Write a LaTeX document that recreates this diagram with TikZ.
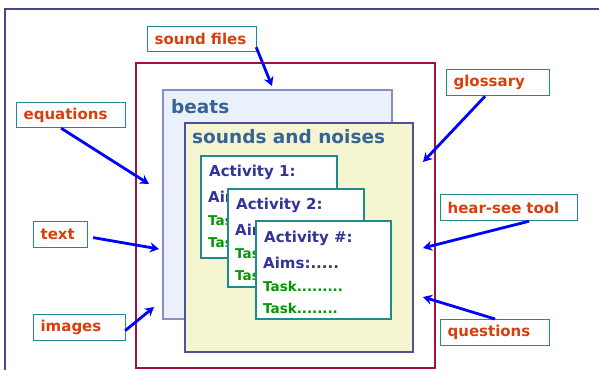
\documentclass[tikz,border=0pt]{standalone}
\usepackage{fontspec}
\setmainfont{DejaVu Sans}
\usetikzlibrary{arrows.meta}
\definecolor{slideline}{RGB}{70,70,150}
\definecolor{labeltext}{RGB}{215,64,12}
\definecolor{labelborder}{RGB}{30,140,140}
\definecolor{framered}{RGB}{160,20,60}
\definecolor{beatsfill}{RGB}{235,241,250}
\definecolor{beatsborder}{RGB}{140,140,200}
\definecolor{soundfill}{RGB}{245,245,210}
\definecolor{soundborder}{RGB}{80,80,160}
\definecolor{titleblue}{RGB}{55,100,150}
\definecolor{actblue}{RGB}{51,51,153}
\definecolor{taskgreen}{RGB}{0,150,0}
\definecolor{arrowblue}{RGB}{0,0,255}
\tikzset{
  lbl/.style={draw=labelborder, line width=1.2pt, fill=white, rectangle,
    anchor=north west, inner xsep=7pt, inner ysep=0pt, align=left,
    font=\fontsize{15}{15}\selectfont\bfseries, text=labeltext},
  actbox/.style={draw=labelborder, line width=1.1pt, fill=white},
  acthead/.style={anchor=base west, inner sep=0pt, text=actblue,
    font=\fontsize{15}{15}\selectfont\bfseries},
  acttask/.style={anchor=base west, inner sep=0pt, text=taskgreen,
    font=\fontsize{13.5}{13.5}\selectfont\bfseries},
  title/.style={anchor=base west, inner sep=0pt, text=titleblue,
    font=\fontsize{18.5}{18.5}\selectfont\bfseries},
  pointer/.style={draw=arrowblue, line width=2.8pt,
    -{Stealth[length=9pt,width=10pt]}},
}
\begin{document}
\begin{tikzpicture}[x=1pt,y=-1pt]
\useasboundingbox (0,0) rectangle (599,370);
\fill[white] (0,0) rectangle (599,370);
% slide border lines
\draw[slideline, line width=1.3pt] (5,370) -- (5,9) -- (599,9);

% main frame and nested panels
\draw[framered, line width=1.3pt, fill=white] (136,63) rectangle (435,368);
\draw[beatsborder, line width=1.1pt, fill=beatsfill] (163,90) rectangle (392,319);
\node[title] (beats) at (171,113) {beats};
\draw[soundborder, line width=1.1pt, fill=soundfill] (185,123) rectangle (413,352);
\node[title] (sounds) at (192,143) {sounds and noises};

% activity cards, each one partly hidden by the next
\draw[actbox] (201,156) rectangle (337,258);
\node[acthead] (a1h) at (209,176) {Activity 1:};
\begin{scope}
  \clip (201,185) rectangle (228,258);
  \node[acthead] (a1a) at (208,202) {Aims:.....};
  \node[acttask] (a1t1) at (208,225) {Task.........};
  \node[acttask] (a1t2) at (208,247) {Task........};
\end{scope}

\draw[actbox] (228,189) rectangle (364,287);
\node[acthead] (a2h) at (236,209) {Activity 2:};
\begin{scope}
  \clip (228,218) rectangle (256,287);
  \node[acthead] (a2a) at (235,235) {Aims:.....};
  \node[acttask] (a2t1) at (235,258) {Task.........};
  \node[acttask] (a2t2) at (235,280) {Task........};
\end{scope}

\draw[actbox] (256,221) rectangle (391,319);
\node[acthead] (a3h) at (264,242) {Activity \#:};
\node[acthead] (a3a) at (263,268) {Aims:.....};
\node[acttask] (a3t1) at (263,291) {Task.........};
\node[acttask] (a3t2) at (263,313) {Task........};

% resource labels
\node[lbl, text width=95pt, minimum height=25pt] (sf) at (147,26) {sound files};
\node[lbl, text width=95pt, minimum height=25pt] (eq) at (16,102) {equations};
\node[lbl, text width=40pt, minimum height=26pt] (tx) at (33,221) {text};
\node[lbl, text width=78pt, minimum height=26pt] (im) at (33,314) {images};
\node[lbl, text width=89pt, minimum height=26pt] (gl) at (446,69) {glossary};
\node[lbl, text width=123pt, minimum height=26pt] (hs) at (440,194) {hear-see tool};
\node[lbl, text width=95pt, minimum height=26pt] (qu) at (440,319) {questions};

% arrow targets
\coordinate (sfT) at (272,86);
\coordinate (eqT) at (149,184);
\coordinate (txT) at (159,249);
\coordinate (imT) at (154,307);
\coordinate (glT) at (423,162);
\coordinate (hsT) at (423,248);
\coordinate (quT) at (423,297);

\draw[pointer] ([xshift=-1pt,yshift=5pt]sf.south east) -- (sfT);
\draw[pointer] ([xshift=-10pt]eq.south) -- (eqT);
\draw[pointer] ([xshift=5pt,yshift=-3pt]tx.east) -- (txT);
\draw[pointer] ([xshift=-1pt,yshift=-3pt]im.east) -- (imT);
\draw[pointer] ([xshift=-13pt]gl.south) -- (glT);
\draw[pointer] ([xshift=20pt]hs.south) -- (hsT);
\draw[pointer] (qu.north) -- (quT);
\end{tikzpicture}
\end{document}
